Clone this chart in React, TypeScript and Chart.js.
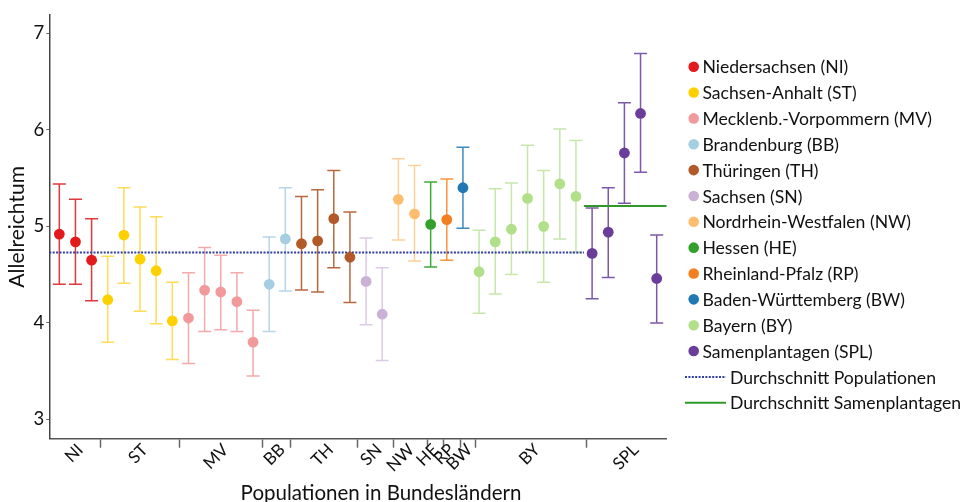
import React, { useEffect, useRef } from 'react';
import { Chart, registerables } from 'chart.js';
Chart.register(...registerables);

// ---------- data ----------
const groupCodes = ['NI', 'ST', 'MV', 'BB', 'TH', 'SN', 'NW', 'HE', 'RP', 'BW', 'BY', 'SPL'];
const groupNames = [
  'Niedersachsen (NI)',
  'Sachsen-Anhalt (ST)',
  'Mecklenb.-Vorpommern (MV)',
  'Brandenburg (BB)',
  'Thüringen (TH)',
  'Sachsen (SN)',
  'Nordrhein-Westfalen (NW)',
  'Hessen (HE)',
  'Rheinland-Pfalz (RP)',
  'Baden-Württemberg (BW)',
  'Bayern (BY)',
  'Samenplantagen (SPL)',
];
const groupSizes = [3, 5, 5, 2, 4, 2, 2, 1, 1, 1, 7, 5];

const meanValues = [
  4.92, 4.84, 4.65,
  4.24, 4.91, 4.66, 4.54, 4.02,
  4.05, 4.34, 4.32, 4.22, 3.80,
  4.40, 4.87,
  4.82, 4.85, 5.08, 4.68,
  4.43, 4.09,
  5.28, 5.13,
  5.02,
  5.07,
  5.40,
  4.53, 4.84, 4.97, 5.29, 5.00, 5.44, 5.31,
  4.72, 4.94, 5.76, 6.17, 4.46,
];
const upperValues = [
  5.44, 5.28, 5.08,
  4.69, 5.40, 5.20, 5.10, 4.42,
  4.52, 4.78, 4.70, 4.52, 4.13,
  4.89, 5.40,
  5.31, 5.38, 5.58, 5.15,
  4.88, 4.57,
  5.70, 5.63,
  5.46,
  5.49,
  5.82,
  4.96, 5.39, 5.45, 5.84, 5.58, 6.01, 5.89,
  5.19, 5.40, 6.28, 6.79, 4.91,
];
const lowerValues = [
  4.40, 4.40, 4.23,
  3.80, 4.41, 4.12, 3.99, 3.62,
  3.58, 3.91, 3.93, 3.91, 3.45,
  3.91, 4.33,
  4.34, 4.32, 4.57, 4.21,
  3.98, 3.61,
  4.86, 4.64,
  4.58,
  4.65,
  4.98,
  4.10, 4.30, 4.50, 4.74, 4.42, 4.87, 4.73,
  4.25, 4.47, 5.24, 5.56, 4.00,
];

const popMeanValue = 4.73;
const popMeanRange = [-0.62, 32.5];
const splMeanValue = 5.21;
const splMeanRange = [32.5, 37.62];

const groupBoundaries = [2.58, 7.47, 12.59, 14.33, 18.46, 20.72, 22.79, 23.82, 24.85, 25.8, 32.66];
const groupLabelPositions = [1.3, 5.3, 10.3, 13.8, 16.8, 19.8, 21.8, 23.3, 24.3, 25.4, 29.6, 35.7];
const yTickValues = [3, 4, 5, 6, 7];
const xAxisTitle = 'Populationen in Bundesländern';

// ---------- style ----------
const pointColors = ['#e31a1c', '#fdd000', '#f29a9b', '#a6cee3', '#b15928', '#cab2d6', '#fdbf6f', '#33a02c', '#f47f20', '#1f78b4', '#b2df8a', '#6a3d9a'];
const errColors = ['#e0393b', '#fedc5a', '#f3aaab', '#b6d6e8', '#b8683e', '#dccbe5', '#fdd19a', '#3fa83a', '#f8953a', '#3d8ac0', '#c7e6ac', '#7e58aa'];
const FONT = 'Lato, "Liberation Sans", sans-serif';
const TEXT = '#111';

export default function App() {
  const ref = useRef<HTMLCanvasElement | null>(null);

  useEffect(() => {
    document.body.style.margin = '0';
    const canvas = ref.current;
    if (!canvas) return;

    const datasets: any[] = [];
    let idx = 0;
    groupSizes.forEach((n, g) => {
      const pts: any[] = [];
      const lo: number[] = [];
      const hi: number[] = [];
      for (let k = 0; k < n; k++) {
        pts.push({ x: idx, y: meanValues[idx] });
        lo.push(lowerValues[idx]);
        hi.push(upperValues[idx]);
        idx++;
      }
      datasets.push({
        type: 'scatter',
        label: groupNames[g],
        data: pts,
        lower: lo,
        upper: hi,
        errColor: errColors[g],
        backgroundColor: pointColors[g],
        borderWidth: 0,
        pointRadius: 5.4,
        pointHoverRadius: 5.4,
        order: 0,
      });
    });
    datasets.push({
      type: 'line',
      label: 'Durchschnitt Populationen',
      data: popMeanRange.map((x) => ({ x, y: popMeanValue })),
      borderColor: '#2e3d9e',
      borderWidth: 2,
      borderDash: [2, 1.4],
      pointRadius: 0,
      order: 2,
    });
    datasets.push({
      type: 'line',
      label: 'Durchschnitt Samenplantagen',
      data: splMeanRange.map((x) => ({ x, y: splMeanValue })),
      borderColor: '#2f9a2a',
      borderWidth: 2,
      pointRadius: 0,
      order: 2,
    });

    const labelMap = new Map<number, string>();
    groupLabelPositions.forEach((p, i) => labelMap.set(p, groupCodes[i]));
    const boundarySet = new Set<number>(groupBoundaries);

    const errorBars = {
      id: 'errorBars',
      beforeDatasetsDraw(chart: any) {
        const { ctx, scales } = chart;
        const xs = scales.x;
        const ys = scales.y;
        ctx.save();
        chart.data.datasets.forEach((ds: any) => {
          if (!ds.lower) return;
          ctx.strokeStyle = ds.errColor;
          ctx.lineWidth = 1.5;
          ds.data.forEach((p: any, i: number) => {
            const x = xs.getPixelForValue(p.x);
            const yl = ys.getPixelForValue(ds.lower[i]);
            const yh = ys.getPixelForValue(ds.upper[i]);
            ctx.beginPath();
            ctx.moveTo(x, yl);
            ctx.lineTo(x, yh);
            ctx.moveTo(x - 6.5, yl);
            ctx.lineTo(x + 6.5, yl);
            ctx.moveTo(x - 6.5, yh);
            ctx.lineTo(x + 6.5, yh);
            ctx.stroke();
          });
        });
        ctx.restore();
      },
    };

    const customLegend = {
      id: 'customLegend',
      afterDraw(chart: any) {
        const { ctx, chartArea } = chart;
        const cx = chartArea.right + 27;
        const y0 = chartArea.top + 51.7;
        const dy = 25.85;
        ctx.save();
        ctx.font = '17.6px ' + FONT;
        ctx.textBaseline = 'middle';
        groupNames.forEach((name, i) => {
          const y = y0 + i * dy;
          ctx.beginPath();
          ctx.fillStyle = pointColors[i];
          ctx.arc(cx, y, 5.3, 0, Math.PI * 2);
          ctx.fill();
          ctx.fillStyle = TEXT;
          ctx.fillText(name, cx + 8.7, y + 1);
        });
        const lineItems = [
          { name: 'Durchschnitt Populationen', color: '#2e3d9e', dash: [2, 1.4] },
          { name: 'Durchschnitt Samenplantagen', color: '#2f9a2a', dash: [] },
        ];
        lineItems.forEach((it, j) => {
          const y = y0 + (groupNames.length + j) * dy;
          ctx.beginPath();
          ctx.strokeStyle = it.color;
          ctx.lineWidth = 2;
          ctx.setLineDash(it.dash);
          ctx.moveTo(cx - 8.7, y);
          ctx.lineTo(cx + 32.3, y);
          ctx.stroke();
          ctx.setLineDash([]);
          ctx.fillStyle = TEXT;
          ctx.fillText(it.name, cx + 36.3, y + 1);
        });
        // x axis title (offset to the right of the plot centre as in the original)
        ctx.font = '20.5px ' + FONT;
        ctx.textAlign = 'center';
        ctx.textBaseline = 'alphabetic';
        ctx.fillStyle = TEXT;
        ctx.fillText(xAxisTitle, (chartArea.left + chartArea.right) / 2 + 23, 499.5);
        ctx.restore();
      },
    };

    const chart = new Chart(canvas, {
      data: { datasets },
      options: {
        animation: false,
        responsive: true,
        maintainAspectRatio: false,
        layout: { padding: { top: 15, right: 295.3, left: 0, bottom: 0 } },
        plugins: { legend: { display: false }, tooltip: { enabled: false } },
        font: { family: FONT },
        scales: {
          x: {
            type: 'linear',
            min: -0.62,
            max: 37.62,
            afterFit: (s: any) => { s.height = 63.3; },
            afterBuildTicks: (s: any) => {
              const vals = [...groupBoundaries, ...groupLabelPositions].sort((a, b) => a - b);
              s.ticks = vals.map((v) => ({ value: v }));
            },
            border: { color: '#555', width: 1.5 },
            grid: {
              drawOnChartArea: false,
              drawTicks: true,
              tickLength: 9,
              tickWidth: 1.5,
              tickColor: (c: any) => (c.tick && boundarySet.has(c.tick.value) ? '#666' : 'rgba(0,0,0,0)'),
            },
            ticks: {
              autoSkip: false,
              minRotation: 45,
              maxRotation: 45,
              padding: -8,
              color: TEXT,
              font: { size: 17, family: FONT },
              callback: (v: any) => labelMap.get(Number(v)) ?? '',
            },
            title: { display: false },
          },
          y: {
            type: 'linear',
            min: 2.8,
            max: 7.19,
            afterFit: (s: any) => { s.width = 49.3; },
            afterBuildTicks: (s: any) => {
              s.ticks = yTickValues.map((v) => ({ value: v }));
            },
            border: { color: '#444', width: 1.5 },
            grid: { drawOnChartArea: false, tickLength: 3, tickColor: '#666', tickWidth: 1 },
            ticks: {
              padding: 2,
              color: TEXT,
              font: { size: 18.5, family: FONT },
            },
            title: {
              display: true,
              text: 'Allelreichtum',
              color: TEXT,
              font: { size: 21, family: FONT },
              padding: { top: 5, bottom: 0 },
            },
          },
        },
      },
      plugins: [errorBars, customLegend],
    } as any);

    return () => chart.destroy();
  }, []);

  return (
    <div style={{ position: 'absolute', left: 0, top: 0, width: 962, height: 502 }}>
      <canvas ref={ref} />
    </div>
  );
}
